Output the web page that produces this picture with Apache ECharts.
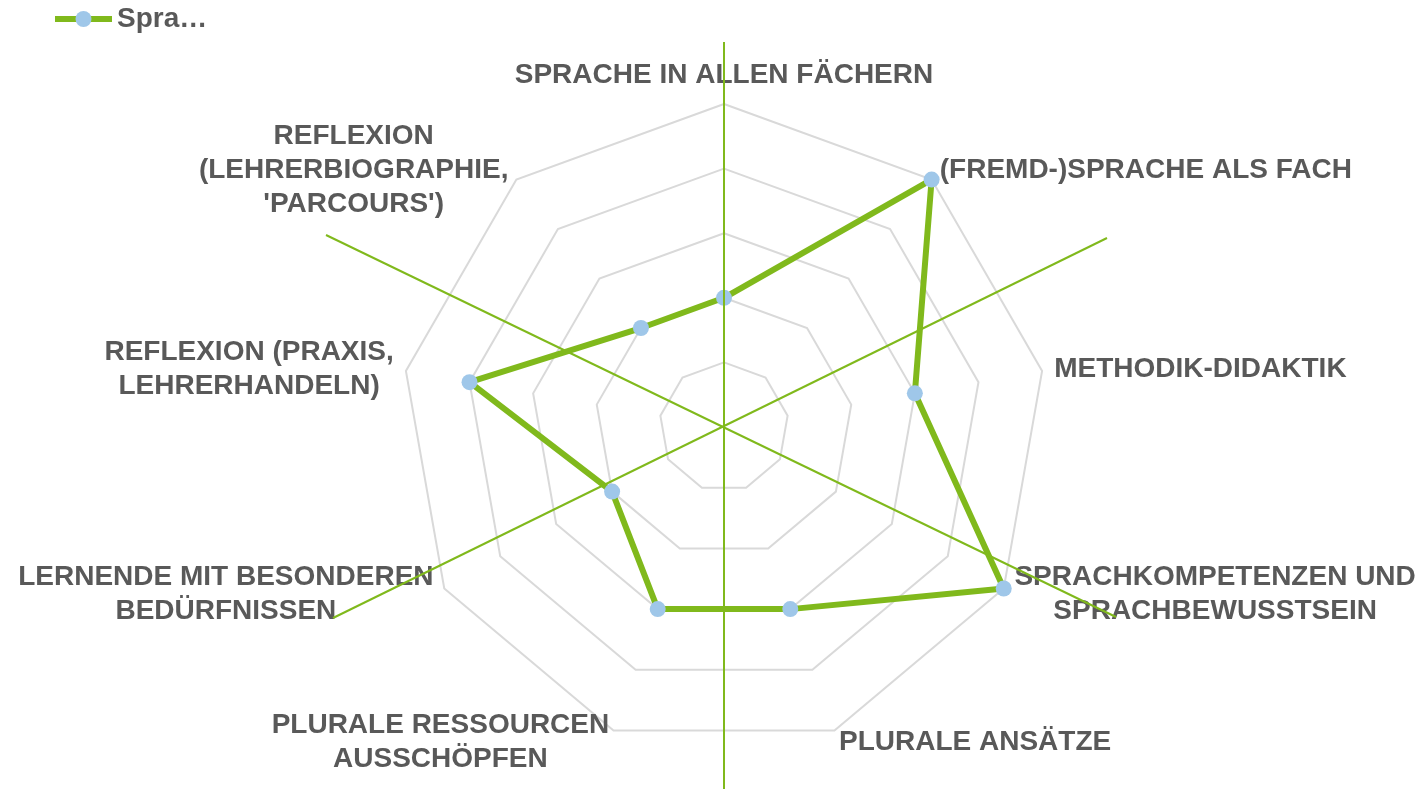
<!DOCTYPE html>
<html><head><meta charset="utf-8">
<script src="https://cdn.jsdelivr.net/npm/echarts@6/dist/echarts.min.js"></script>
<style>html,body{margin:0;padding:0;background:#fff}#c{width:1420px;height:789px}</style>
</head><body><div id="c"></div>
<script>
// ---- data ----
const categories = [
  'SPRACHE IN ALLEN FÄCHERN',
  '(FREMD-)SPRACHE ALS FACH',
  'METHODIK-DIDAKTIK',
  'SPRACHKOMPETENZEN UND\nSPRACHBEWUSSTSEIN',
  'PLURALE ANSÄTZE',
  'PLURALE RESSOURCEN\nAUSSCHÖPFEN',
  'LERNENDE MIT BESONDEREN\nBEDÜRFNISSEN',
  'REFLEXION (PRAXIS,\nLEHRERHANDELN)',
  "REFLEXION\n(LEHRERBIOGRAPHIE,\n'PARCOURS')"
];
const values = [2, 5, 3, 5, 3, 3, 2, 4, 2];
const seriesName = 'Spra…';
const scaleMin = 0;
const scaleMax = 5;
const ringCount = 5;

// ---- styles ----
const GREEN = '#80b91c';
const BLUE = '#9fc7e9';
const TEXT = '#595959';
const FONT = "'Liberation Sans', Arial, Helvetica, sans-serif";
const FS = 28;
const LH = 34;
const CX = 724, CY = 427, R = 323;

const ctx = document.createElement('canvas').getContext('2d');
ctx.font = 'bold ' + FS + "px 'Liberation Sans', Arial, sans-serif";
const rich = {};
const keyOf = {};
categories.forEach(function (c, i) {
  const w = Math.max.apply(null, c.split('\n').map(function (l) { return ctx.measureText(l).width; }));
  rich['l' + i] = { width: Math.ceil(w), align: 'center', fontSize: FS, fontWeight: 'bold',
    fontFamily: FONT, color: TEXT, lineHeight: LH };
  keyOf[c] = 'l' + i;
});

// ECharts lays radar indicators counter-clockwise: keep the first, reverse the rest (clockwise order)
const order = [0].concat(categories.map(function (_, i) { return i; }).slice(1).reverse());

const chart = echarts.init(document.getElementById('c'), null, { renderer: 'canvas' });
chart.setOption({
  animation: false,
  backgroundColor: '#ffffff',
  legend: {
    left: 47, top: 0, itemWidth: 57, itemHeight: 20, selectedMode: false,
    data: [seriesName],
    lineStyle: { width: 6 },
    textStyle: { fontSize: FS, fontWeight: 'bold', color: TEXT, fontFamily: FONT }
  },
  grid: { show: false, left: 0, top: 0, width: 1, height: 1 },
  xAxis: { show: false, type: 'category', data: [] },
  yAxis: { show: false, type: 'value' },
  radar: {
    center: [CX, CY],
    radius: R,
    startAngle: 90,
    splitNumber: ringCount,
    shape: 'polygon',
    axisNameGap: 12,
    axisName: {
      fontSize: FS, fontWeight: 'bold', color: TEXT, fontFamily: FONT, lineHeight: LH,
      rich: rich,
      formatter: function (name) {
        const k = keyOf[name];
        return name.split('\n').map(function (l) { return '{' + k + '|' + l + '}'; }).join('\n');
      }
    },
    splitLine: { lineStyle: { color: '#d9d9d9', width: 2 } },
    splitArea: { show: false },
    axisLine: { show: false },
    axisTick: { show: false },
    axisLabel: { show: false },
    indicator: order.map(function (i) { return { name: categories[i], min: scaleMin, max: scaleMax }; })
  },
  series: [
    {
      type: 'line', name: seriesName, data: [], symbol: 'circle', symbolSize: 16, silent: true,
      lineStyle: { color: GREEN, width: 6 }, itemStyle: { color: BLUE }
    },
    {
      type: 'radar', name: seriesName, symbol: 'circle', symbolSize: 16, z: 3,
      lineStyle: { color: GREEN, width: 6 },
      itemStyle: { color: BLUE },
      data: [{ name: seriesName, value: order.map(function (i) { return values[i]; }),
        lineStyle: { color: GREEN, width: 6 }, itemStyle: { color: BLUE } }]
    }
  ],
  graphic: [
    { type: 'line', z: 100, silent: true, shape: { x1: CX, y1: 42, x2: CX, y2: 789 }, style: { stroke: GREEN, lineWidth: 2 } },
    { type: 'line', z: 100, silent: true, shape: { x1: 326, y1: 235, x2: 1116, y2: 617 }, style: { stroke: GREEN, lineWidth: 2 } },
    { type: 'line', z: 100, silent: true, shape: { x1: 333, y1: 618, x2: 1107, y2: 238 }, style: { stroke: GREEN, lineWidth: 2 } }
  ]
});
</script>
</body></html>
